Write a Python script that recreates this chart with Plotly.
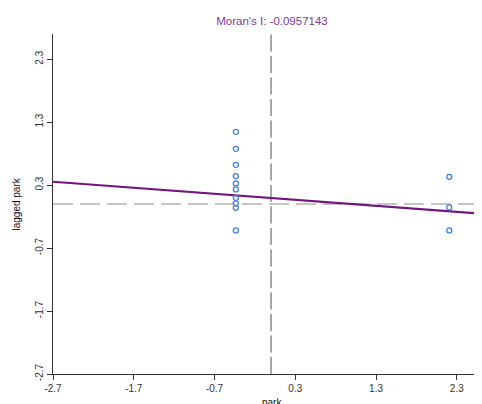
import plotly.graph_objects as go

# data
park = [-0.436, -0.436, -0.436, -0.436, -0.436, -0.436, -0.436, -0.436, -0.436, -0.436,
        2.207, 2.207, 2.207]
lagged_park = [1.146, 0.876, 0.622, 0.443, 0.327, 0.232, 0.098, 0.010, -0.060, -0.419,
               0.432, -0.054, -0.419]
morans_i = -0.0957143
intercept = 0.095
x_mean = 0.0
y_mean = 0.0
tick_vals = [-2.7, -1.7, -0.7, 0.3, 1.3, 2.3]
tick_text = ["-2.7", "-1.7", "-0.7", "0.3", "1.3", "2.3"]
x_range = [-2.7, 2.612]
y_range = [-2.7, 2.7]

FONT = "Liberation Sans, Arial, sans-serif"

# page body has an 8px default margin; figure is sized to fill the window
W, H = 474, 396

fig = go.Figure()

line_x = x_range
line_y = [intercept + morans_i * v for v in line_x]

fig.add_vline(x=x_mean, line=dict(color="#7a7a7a", width=1.3, dash="17px,4.5px"), layer="below")
fig.add_hline(y=y_mean, line=dict(color="#b4b4b4", width=1.6, dash="20px,7px"), layer="below")

fig.add_trace(go.Scatter(
    x=line_x, y=line_y, mode="lines",
    line=dict(color="#74147f", width=2.2),
    hoverinfo="skip", showlegend=False,
))

fig.add_trace(go.Scatter(
    x=park, y=lagged_park, mode="markers",
    marker=dict(symbol="circle-open", size=5, color="#3d7cf0", line=dict(width=1.3, color="#3d7cf0")),
    showlegend=False,
))

axis_common = dict(
    showgrid=False, zeroline=False, showline=True, linecolor="#333333", linewidth=1,
    ticks="outside", ticklen=5, tickcolor="#333333", tickwidth=1,
    tickvals=tick_vals, ticktext=tick_text,
    tickfont=dict(family=FONT, size=10, color="#333333"),
)

fig.update_xaxes(range=x_range, **axis_common)
fig.update_yaxes(range=y_range, tickangle=-90, **axis_common)

fig.update_layout(
    width=W, height=H,
    margin=dict(l=45, r=0, t=26, b=30, autoexpand=False),
    paper_bgcolor="white", plot_bgcolor="white",
    title=dict(text="Moran's I: -0.0957143", x=264 / W, xanchor="center",
               y=1 - 12.5 / H, yanchor="middle",
               font=dict(family=FONT, size=11.5, color="#7b3b96")),
    annotations=[
        dict(text="park", xref="paper", yref="paper", x=(264 - 45) / (W - 45), y=0,
             yanchor="middle", yshift=-28, showarrow=False,
             font=dict(family=FONT, size=10, color="#111111")),
        dict(text="lagged park", xref="paper", yref="paper", x=0, y=0.5, xanchor="center",
             xshift=-37.5, textangle=-90, showarrow=False,
             font=dict(family=FONT, size=10, color="#111111")),
    ],
)

fig.write_html("out.html")
